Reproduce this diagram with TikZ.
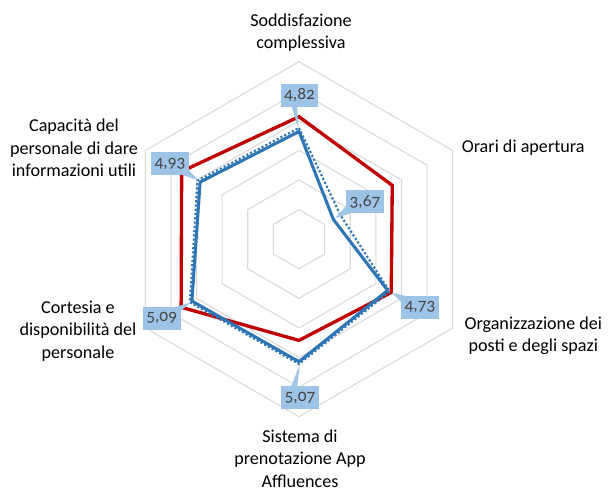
\documentclass[tikz,border=0pt]{standalone}
\usepackage{fontspec}
\setmainfont{Carlito}
\usetikzlibrary{calc}

\definecolor{serieRed}{RGB}{192,0,0}
\definecolor{serieBlue}{RGB}{46,117,182}
\definecolor{gridGray}{RGB}{217,217,217}
\definecolor{boxBlue}{RGB}{157,195,230}
\definecolor{boxText}{RGB}{70,70,70}

\begin{document}
\begin{tikzpicture}[x=0.75pt,y=0.75pt,yscale=-1,xscale=1,
  declare function={rv(\v)=(\v-3)*59.17;},
  gridline/.style={draw=gridGray, line width=0.8pt},
  redline/.style={draw=serieRed, line width=2.5pt},
  blueline/.style={draw=serieBlue, line width=2.3pt, line join=round},
  bluedots/.style={draw=serieBlue, line width=1.6pt, dash pattern=on 1.6pt off 1.6pt},
  axislabel/.style={align=center, inner sep=0pt, font=\fontsize{13.6}{16.7}\selectfont},
  valbox/.style={fill=boxBlue, inner sep=0pt, minimum width=28.2pt, minimum height=17pt,
    text=boxText, font=\fontsize{13}{14}\selectfont\addfontfeatures{Numbers=OldStyle}},
  pointer/.style={fill=boxBlue}]
\useasboundingbox (0,0) rectangle (609,491);

%Shape: Hexagon grid
\begin{scope}[shift={(299,239.2)}, yscale=-1]
  \foreach \k in {1,...,6}
    \draw[gridline] (90:{\k*29.58}) -- (30:{\k*29.58}) -- (-30:{\k*29.58})
      -- (-90:{\k*29.58}) -- (-150:{\k*29.58}) -- (150:{\k*29.58}) -- cycle;

  %Series: red
  \draw[redline] (90:{rv(5.07)}) -- (30:{rv(4.82)}) -- (-30:{rv(4.80)})
    -- (-90:{rv(4.71)}) -- (-150:{rv(5.30)}) -- (150:{rv(5.29)}) -- cycle;
  %Series: blue
  \draw[blueline] (90:{rv(4.82)}) -- (30:{rv(3.67)}) -- (-30:{rv(4.73)})
    -- (-90:{rv(5.07)}) -- (-150:{rv(5.09)}) -- (150:{rv(4.93)}) -- cycle;
  %Series: blue dotted
  \draw[bluedots] (90:{rv(4.88)}) -- (30:{rv(3.81)}) -- (-30:{rv(4.77)})
    -- (-90:{rv(5.11)}) -- (-150:{rv(5.13)}) -- (150:{rv(4.98)}) -- cycle;
\end{scope}

%Callout ends
\coordinate (tip482) at (298.5,128.5);
\coordinate (tip367) at (335,218);
\coordinate (tip473) at (391.5,292.5);
\coordinate (tip493) at (198.5,180.5);
\coordinate (tip509) at (191,302.5);
\coordinate (tip507) at (300,364);

% Value labels
\node[valbox] (lbl482) at (299.5,95.3) {4,82};
\node[valbox] (lbl367) at (365,201.7) {3,67};
\node[valbox] (lbl473) at (420,307.5) {4,73};
\node[valbox] (lbl493) at (170,163.8) {4,93};
\node[valbox] (lbl509) at (161.7,318.3) {5,09};
\node[valbox] (lbl507) at (300,397.5) {5,07};

\fill[pointer] ($(lbl482.south)+(-8,-1)$) -- (tip482) -- ($(lbl482.south)+(-2.5,-1)$) -- cycle;
\fill[pointer] ($(lbl367.south west)+(1,-8)$) -- (tip367) -- ($(lbl367.south west)+(8,-1)$) -- cycle;
\fill[pointer] ($(lbl473.north west)+(1,7)$) -- (tip473) -- ($(lbl473.north west)+(8,1)$) -- cycle;
\fill[pointer] ($(lbl493.south east)+(-8,-1)$) -- (tip493) -- ($(lbl493.south east)+(-1,-6)$) -- cycle;
\fill[pointer] ($(lbl509.north east)+(-8,1)$) -- (tip509) -- ($(lbl509.north east)+(-1,5)$) -- cycle;
\fill[pointer] ($(lbl507.north)+(-9,1)$) -- (tip507) -- ($(lbl507.north)+(-3,1)$) -- cycle;

% Text Node
\node[axislabel] (soddisf) at (301,33) {Soddisfazione\\complessiva};
% Text Node
\node[axislabel, anchor=base west] (orari) at (461.5,152.7) {Orari di apertura};
% Text Node
\node[axislabel] (organiz) at (533.3,336) {Organizzazione dei\\posti e degli spazi};
% Text Node
\node[axislabel] (sistema) at (300,458.5) {Sistema di\\prenotazione App\\Affluences};
% Text Node
\node[axislabel] (cortesia) at (78,331) {Cortesia e\\disponibilità del\\personale};
% Text Node
\node[axislabel] (capacita) at (74,148) {Capacità del\\personale di dare\\informazioni utili};

\end{tikzpicture}
\end{document}
